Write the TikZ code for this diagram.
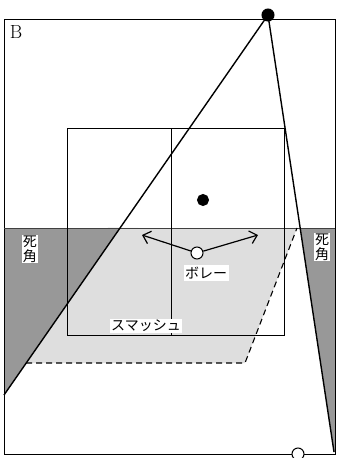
\documentclass[tikz,border=0pt]{standalone}
\usepackage{fontspec}
\newfontfamily\jpfont{Noto Sans CJK JP}
\usetikzlibrary{arrows.meta,calc}
\definecolor{blindgray}{RGB}{152,152,152}
\definecolor{reachgray}{RGB}{222,222,222}
\tikzset{
  court/.style={draw, line width=0.9pt},
  sight/.style={line width=1.4pt},
  reach/.style={line width=1.1pt, dash pattern=on 6pt off 4pt},
  player/.style={circle, draw, line width=1pt, minimum size=12pt, inner sep=0pt},
  tag/.style={fill=white, inner sep=1.5pt, font=\jpfont\fontsize{14}{14}\selectfont},
  blindtag/.style={tag, align=center, inner sep=1pt, font=\jpfont\fontsize{14}{15}\selectfont},
  swing/.style={-{Straight Barb[length=7pt, width=13pt]}, line width=1.2pt},
}

\begin{document}
\begin{tikzpicture}[x=1pt, y=-1pt]
  \useasboundingbox (0,0) rectangle (337,458);

  % key points
  \coordinate (hit) at (268,15);
  \coordinate (leftend) at (4,395);
  \coordinate (rightend) at (334,452);
  \coordinate (netL) at (4,228);
  \coordinate (netR) at (335,228);

  % blind spots and reach
  \fill[blindgray] (netL) -- ($(hit)!{213/380}!(leftend)$) -- (leftend) -- cycle;
  \fill[blindgray] ($(hit)!{213/437}!(rightend)$) -- (netR) -- (335,452) -- (rightend) -- cycle;
  \fill[reachgray] ($(hit)!{213/380}!(leftend)$) -- (297,228) -- (245,363)
    -- ($(hit)!{348/380}!(leftend)$) -- cycle;

  % court
  \draw[court] (4,19) rectangle (335,454);
  \draw[line width=1pt, black!75] (netL) -- (netR);
  \draw[court] (67,128) rectangle (284,335);
  \draw[court] (171,128) -- (171,335);

  % smash reach
  \draw[reach] ($(hit)!{348/380}!(leftend)$) -- (245,363) -- (297,228);

  % lines of sight
  \draw[sight] (hit) -- (leftend);
  \draw[sight] (hit) -- (rightend);

  % players
  \node[player, fill=black] (hitter) at (hit) {};
  \node[player, fill=black, minimum size=11pt] (partner) at (203,200) {};
  \node[player, fill=white] (volley) at (197,253) {};
  \node[player, fill=white] (receiver) at (298,454) {};

  % volley moves
  \coordinate (moveL) at (142,235);
  \coordinate (moveR) at (258,235);
  \draw[swing] (volley) -- (moveL);
  \draw[swing] (volley) -- (moveR);

  % labels
  \node[font=\fontsize{19}{19}\selectfont] (court) at (16,32) {B};
  \node[tag] (volleytag) at (206,273) {ボレー};
  \node[tag] (smashtag) at (146,326) {スマッシュ};
  \node[blindtag] (blindL) at (30,249) {死\\角};
  \node[blindtag] (blindR) at (322,247) {死\\角};
\end{tikzpicture}
\end{document}
